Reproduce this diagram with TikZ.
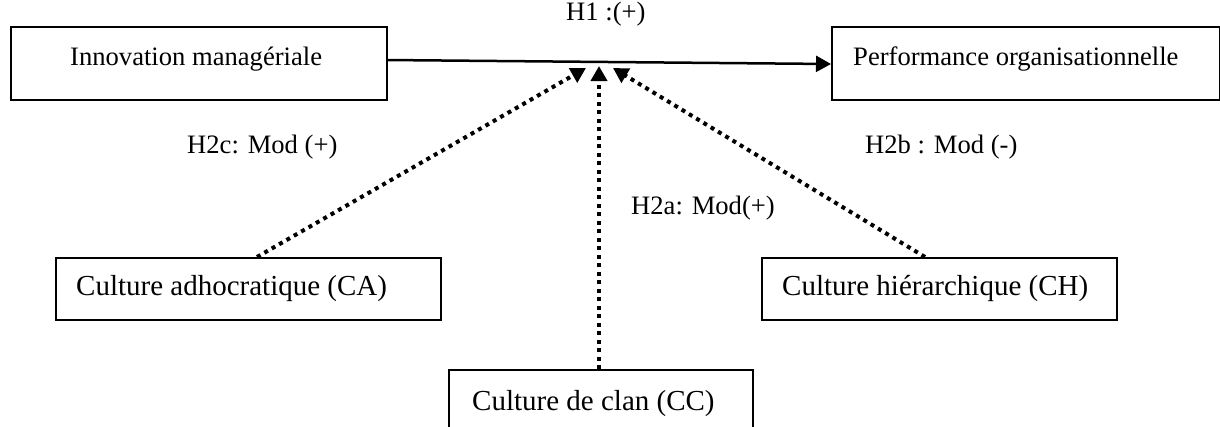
\documentclass[tikz,border=0pt]{standalone}
\usepackage{fontspec}
\setmainfont{Liberation Serif}
\usetikzlibrary{arrows.meta}
\begin{document}
\begin{tikzpicture}[x=1pt,y=-1pt,
  box/.style={draw, line width=2pt, anchor=north west, inner sep=0pt},
  boxtext/.style={font=\fontsize{29}{34}\selectfont, inner sep=0pt, anchor=base west},
  smalltext/.style={font=\fontsize{26.6}{32}\selectfont, inner sep=0pt, anchor=base west},
  hyp/.style={font=\fontsize{26.6}{32}\selectfont, inner sep=0pt, anchor=base west},
  solidarrow/.style={line width=2.5pt, -{Triangle[width=16pt,length=15pt]}},
  modarrow/.style={line width=4pt, dash pattern=on 4pt off 4.5pt, -{Triangle[width=16pt,length=15pt]}}]
\useasboundingbox (0,0) rectangle (1220,426);
% boxes
\node[box, minimum width=376pt, minimum height=73pt] (im) at (10,26) {};
\node[box, minimum width=388pt, minimum height=73pt] (po) at (831,26) {};
\node[box, minimum width=385pt, minimum height=62pt] (ca) at (55,257) {};
\node[box, minimum width=355pt, minimum height=62pt] (ch) at (761,257) {};
\node[box, minimum width=304pt, minimum height=80pt] (cc) at (448,369) {};
% box texts
\node[smalltext] (imt) at (70,65) {Innovation managériale};
\node[smalltext] (pot) at (853,65) {Performance organisationnelle};
\node[boxtext] (cat) at (76,295) {Culture adhocratique (CA)};
\node[boxtext] (cht) at (782,295) {Culture hiérarchique (CH)};
\node[boxtext] (cct) at (472,410) {Culture de clan (CC)};
% hypothesis labels
\node[hyp] (h1) at (566,20) {H1 :(+)};
\node[hyp] (h2c) at (187,153) {H2c: Mod (+)};
\node[hyp] (h2b) at (865,153) {H2b : Mod (-)};
\node[hyp] (h2a) at (631,214) {H2a: Mod(+)};
% connector end points
\coordinate (imr) at (386,60);
\coordinate (pol) at (831,64);
\coordinate (tipa) at (586,68);
\coordinate (tipc) at (599,66);
\coordinate (tipb) at (613,68);
\coordinate (caup) at (257,257);
\coordinate (chup) at (925,257);
\coordinate (ccup) at (599,369);
% connectors
\draw[solidarrow] (imr) -- (pol);
\draw[modarrow] (caup) -- (tipa);
\draw[modarrow] (ccup) -- (tipc);
\draw[modarrow] (chup) -- (tipb);
\end{tikzpicture}
\end{document}
